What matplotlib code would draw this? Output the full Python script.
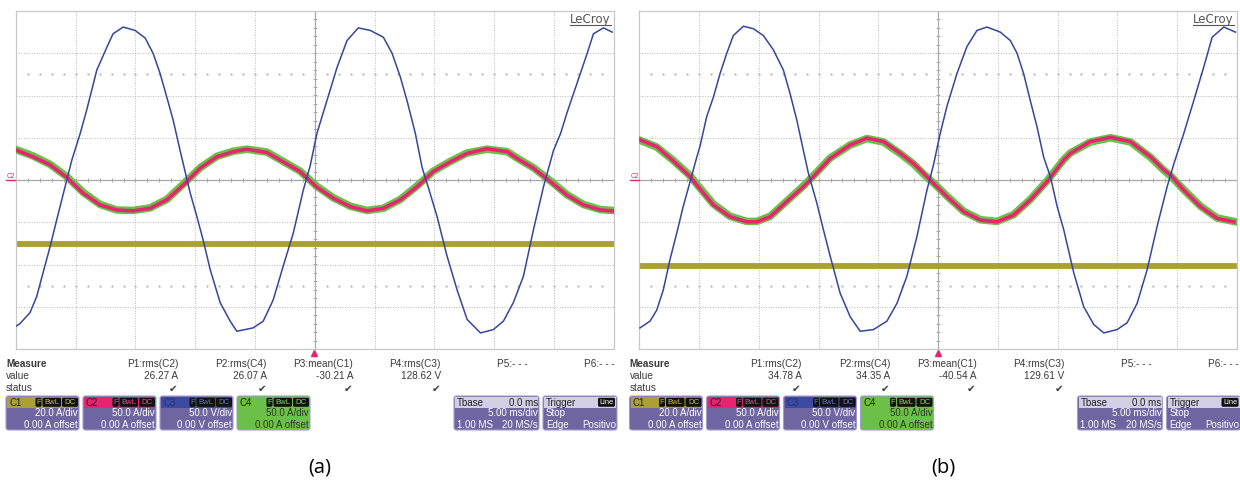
import numpy as np
import matplotlib
matplotlib.use("Agg")
import matplotlib.pyplot as plt
from matplotlib.patches import FancyBboxPatch, Rectangle

plt.rcParams['font.family'] = ['Liberation Sans', 'DejaVu Sans']

# ---- scope settings (per division) ----
T_DIV = 5.0      # ms/div
V_DIV = 50.0     # C3, V/div
I2_DIV = 50.0    # C2 / C4, A/div
I1_DIV = 20.0    # C1, A/div

# ---- panel (a) traces (time in ms, centre = 0) ----
blue_a_t = [-25.0, -24.67, -23.83, -23.27, -22.74, -22.15, -21.59, -20.75, -20.34, -19.63,
            -19.08, -18.24, -17.40, -16.88, -16.04, -15.03, -14.19, -13.53, -12.94, -12.38,
            -11.85, -11.27, -10.85, -10.43, -9.87, -9.34, -8.75, -7.92, -7.08, -6.52,
            -5.15, -4.31, -3.48, -2.64, -1.80, -0.96, -0.38, 0.18, 1.02, 1.86,
            2.70, 3.64, 4.65, 5.74, 6.47, 7.16, 7.72, 8.42, 8.98, 9.53,
            10.23, 11.07, 11.91, 12.75, 13.87, 14.95, 15.79, 16.62, 17.46, 18.30,
            19.14, 19.98, 20.57, 21.12, 21.96, 22.80, 23.32, 24.16, 24.89]
blue_a_v = [-173, -170, -157, -138, -110, -79, -47, 0, 23, 55,
            83, 130, 157, 173, 181, 177, 168, 150, 126, 98,
            71, 35, 10, -15, -43, -71, -106, -145, -167, -179,
            -175, -167, -142, -102, -63, -12, 17, 55, 94, 133,
            165, 180, 177, 169, 150, 122, 94, 55, 15, -10,
            -43, -90, -130, -165, -181, -177, -167, -145, -114, -59,
            -8, 35, 55, 80, 115, 150, 173, 180, 175]

red_a_t = [-25.0, -23.58, -22.15, -20.75, -19.39, -17.96, -16.57, -15.20, -13.78, -12.38,
           -11.01, -9.59, -8.19, -6.83, -5.68, -4.00, -2.64, -1.23, 0.18, 1.55,
           2.97, 4.37, 5.74, 7.16, 8.56, 9.92, 11.35, 12.75, 14.42, 16.10,
           16.93, 18.30, 19.72, 21.12, 22.49, 23.91, 24.89]
red_a_i = [35.5, 27.5, 18, 3, -15.5, -29.5, -35.5, -36.5, -33.5, -23.5,
           -6, 14, 27.5, 33.5, 36.5, 32.5, 21.5, 10, -8.5, -21.5,
           -31.5, -36.5, -33.5, -23.5, -8, 10, 21.5, 31.5, 37, 33.5,
           25.5, 14, -2, -18, -29.5, -35.5, -36.5]
green_a_i = [36, 28.5, 18.5, 4, -14.5, -29, -35.5, -36, -33, -23,
             -5, 14.5, 28, 34, 36.5, 33, 22, 10.5, -7.5, -21,
             -31, -36, -33.5, -23, -7, 10.5, 22, 32, 36.5, 33.5,
             26, 14.5, -1, -17.5, -29, -35, -36]

yellow_a_t = [-25.0, 25.0]
yellow_a_i = [-30.2, -30.2]

# ---- panel (b) traces ----
blue_b_t = [-24.94, -24.10, -23.54, -22.99, -22.43, -21.87, -21.32, -20.75, -20.19, -19.92,
            -19.36, -18.80, -18.24, -17.68, -17.13, -16.29, -15.45, -14.62, -13.78, -12.94,
            -12.38, -11.82, -11.27, -10.85, -10.15, -9.59, -9.03, -8.19, -7.35, -6.51,
            -5.40, -4.28, -3.44, -2.61, -1.77, -0.93, -0.38, 0.18, 0.74, 1.58,
            2.42, 3.26, 4.09, 5.21, 6.05, 6.61, 7.16, 7.72, 8.28, 8.84,
            9.40, 9.96, 10.52, 11.36, 12.19, 13.03, 13.87, 14.98, 15.82, 16.66,
            17.50, 18.33, 19.17, 19.73, 20.56, 21.40, 22.24, 22.94, 23.91, 24.89]
blue_b_v = [-175, -167, -154, -130, -94, -63, -31, -2, 27, 40,
            75, 98, 126, 150, 171, 182, 179, 171, 154, 130,
            102, 71, 35, 8, -27, -59, -90, -134, -162, -179,
            -177, -167, -146, -114, -67, -12, 18, 55, 87, 126,
            158, 177, 181, 175, 165, 150, 126, 94, 63, 27,
            4, -31, -59, -110, -150, -171, -181, -177, -169, -146,
            -106, -55, -8, 19, 55, 94, 134, 169, 181, 175]

red_b_t = [-24.94, -23.54, -22.15, -20.75, -20.19, -18.80, -17.40, -16.01, -15.17, -14.05,
           -12.66, -11.27, -10.43, -9.03, -7.35, -5.96, -4.57, -3.15, -2.05, -1.21,
           -0.38, 0.74, 2.14, 3.54, 4.93, 6.32, 7.72, 9.12, 10.51, 11.07,
           12.75, 14.42, 16.10, 17.77, 18.89, 19.45, 20.56, 21.96, 23.36, 24.75]
red_b_i = [47.5, 39.5, 22.5, 4, -6, -29.5, -43.5, -49.5, -49.5, -43.5,
           -25.5, -8, 4, 25.5, 41.5, 49.5, 45.5, 31.5, 19.5, 8,
           -4, -19.5, -37.5, -47.5, -49.5, -41.5, -23.5, -2, 23.5, 31.5,
           45.5, 50.5, 45.5, 27.5, 12, 6, -12, -31.5, -45.5, -49.5]
green_b_i = [47, 39, 23, 5, -5, -28.5, -43, -49, -49, -43,
             -25, -7, 5, 26, 41.5, 49, 45, 31, 19, 7,
             -3.5, -19, -37, -47, -49, -41, -23, -1, 24, 32,
             45, 50, 45, 27, 11.5, 5, -11.5, -31, -45, -49]

yellow_b_t = [-25.0, 25.0]
yellow_b_i = [-40.6, -40.6]

# ---- measurement / channel readouts ----
meas_names = ['P1:rms(C2)', 'P2:rms(C4)', 'P3:mean(C1)', 'P4:rms(C3)', 'P5:- - -', 'P6:- - -']
meas_vals_a = ['26.27 A', '26.07 A', '-30.21 A', '128.62 V', '', '']
meas_vals_b = ['34.78 A', '34.35 A', '-40.54 A', '129.61 V', '', '']
ch_names = ['C1', 'C2', 'C3', 'C4']
ch_scales = ['20.0 A/div', '50.0 A/div', '50.0 V/div', '50.0 A/div']
ch_offsets = ['0.00 A offset', '0.00 A offset', '0.00 V offset', '0.00 A offset']
tbase_vals = ['0.0 ms', '5.00 ms/div', '1.00 MS', '20 MS/s']
trig_vals = ['Line', 'Stop', 'Edge', 'Positivo']
panel_labels = ['(a)', '(b)']

# colours
c_yel = '#aaa034'
c_red = '#e6246f'
c_blue = '#36469e'
c_grn = '#6cc04a'
c_body = '#6e65a1'
c_text = '#3a3a3a'

W, H = 1240, 484
fig = plt.figure(figsize=(W / 100, H / 100), dpi=100)
fig.patch.set_facecolor('white')


def scope_axes(left_px):
    top, w, h = 11, 597.5, 338
    ax = fig.add_axes([left_px / W, 1 - (top + h) / H, w / W, h / H])
    ax.set_xlim(-25, 25)
    ax.set_ylim(-4, 4)
    ax.set_xticks([])
    ax.set_yticks([])
    for s in ax.spines.values():
        s.set_color('#c8c8c8')
        s.set_linewidth(0.9)
    grid_kw = dict(color='#b8b8b8', lw=0.7, ls=(0, (1, 1.6)), zorder=1)
    for k in range(-4, 5):
        if k != 0:
            ax.axvline(k * T_DIV, **grid_kw)
            ax.axhline(k, **grid_kw)
    ax.axvline(0, color='#a8a8a8', lw=0.9, zorder=1)
    ax.axhline(0, color='#a8a8a8', lw=0.9, zorder=1)
    ax.vlines(np.arange(-25, 25.01, 1.0), -0.055, 0.055, color='#a8a8a8', lw=0.7, zorder=1)
    ax.hlines(np.arange(-4, 4.01, 0.2), -0.18, 0.18, color='#a8a8a8', lw=0.7, zorder=1)
    dots = np.arange(-24, 24.5, 1.0)
    for yy in (2.5, -2.5):
        ax.plot(dots, np.full_like(dots, yy), ls='none', marker='s', ms=0.7,
                color='#c0c0c0', zorder=1)
    return ax


def draw_traces(ax, bt, bv, rt, ri, gi, yt, yi):
    ax.plot(yt, np.array(yi) / I1_DIV, color=c_yel, lw=4.2, solid_capstyle='butt', zorder=2)
    ax.plot(rt, np.array(gi) / I2_DIV, color=c_grn, lw=5.5, zorder=3)
    ax.plot(rt, np.array(ri) / I2_DIV, color=c_red, lw=2.6, zorder=4)
    ax.plot(bt, np.array(bv) / V_DIV, color=c_blue, lw=1.1, zorder=5)


ax_a = scope_axes(16)
draw_traces(ax_a, blue_a_t, blue_a_v, red_a_t, red_a_i, green_a_i, yellow_a_t, yellow_a_i)
ax_b = scope_axes(639.3)
draw_traces(ax_b, blue_b_t, blue_b_v, red_b_t, red_b_i, green_b_i, yellow_b_t, yellow_b_i)

# overlay in pixel coordinates for the readout area
ov = fig.add_axes([0, 0, 1, 1], zorder=10)
ov.set_xlim(0, W)
ov.set_ylim(H, 0)
ov.axis('off')
ov.patch.set_alpha(0)


def badge(x, y, w, h, txt, col, fs=5.6):
    ov.add_patch(FancyBboxPatch((x, y), w, h, boxstyle='round,pad=0,rounding_size=1.5',
                                fc='#111111', ec='none'))
    ov.text(x + w / 2, y + h / 2 + 0.3, txt, color=col, fontsize=fs, ha='center',
            va='center')


def readout(x0, vals, plot_right, label):
    # LeCroy logo
    ov.text(plot_right - 3, 19, 'LeCroy', ha='right', va='center', fontsize=8.5,
            color='#555555', family=['DejaVu Sans'])
    ov.plot([plot_right - 44, plot_right - 3], [25, 25], color='#555555', lw=0.8)
    # C2 offset marker and trigger arrow
    ov.text(x0 + 11, 176, 'C2', ha='center', va='center', fontsize=4.8, color=c_red)
    ov.plot([x0 + 6, x0 + 15], [180, 180], color=c_red, lw=1.0)
    ov.plot(x0 + 314, 353, marker='^', ms=5, color=c_red)

    ov.text(x0 + 6, 364, 'Measure', fontsize=7.2, fontweight='bold', color=c_text, va='center')
    ov.text(x0 + 6, 376, 'value', fontsize=7.2, color=c_text, va='center')
    ov.text(x0 + 6, 388, 'status', fontsize=7.2, color=c_text, va='center')
    rights = [178, 267, 353, 441, 528, 615]
    for i, (name, v) in enumerate(zip(meas_names, vals)):
        xr = x0 + rights[i]
        ov.text(xr, 364, name, ha='right', va='center', fontsize=7.2, color=c_text)
        if v:
            ov.text(xr, 376, v, ha='right', va='center', fontsize=7.2, color=c_text)
            ov.text(xr - 5, 388.5, '\u2714', ha='center', va='center', fontsize=7.5,
                    color='#404040', family=['DejaVu Sans'])

    heads = [c_yel, c_red, '#3d4aa2', c_grn]
    badge_cols = ['#c8bd48', '#f24a8e', '#6574c8', '#86d862']
    name_cols = ['#222222', '#3a1020', '#26306e', '#222222']
    for i in range(4):
        x = x0 + 6 + i * 77
        body = c_grn if i == 3 else c_body
        txt = '#2a3a20' if i == 3 else 'white'
        ov.add_patch(FancyBboxPatch((x, 396), 73, 34, boxstyle='round,pad=0,rounding_size=2.5',
                                    fc=body, ec='#a49ccc', lw=0.8))
        ov.add_patch(Rectangle((x + 1, 397), 71, 10.5, fc=heads[i], ec='none'))
        ov.text(x + 3, 402.5, ch_names[i], fontsize=7, color=name_cols[i], va='center')
        badge(x + 29.5, 397.8, 6, 9, 'F', badge_cols[i])
        badge(x + 36.5, 397.8, 18.5, 9, 'BwL', badge_cols[i])
        badge(x + 56, 397.8, 16, 9, 'DC', badge_cols[i])
        ov.text(x + 72, 413.5, ch_scales[i], ha='right', va='center', fontsize=7, color=txt)
        ov.text(x + 72, 424.5, ch_offsets[i], ha='right', va='center', fontsize=7, color=txt)

    # timebase and trigger boxes
    for bx, bw in ((x0 + 454, 85), (x0 + 543, 74)):
        ov.add_patch(FancyBboxPatch((bx, 396), bw, 34, boxstyle='round,pad=0,rounding_size=2.5',
                                    fc=c_body, ec='#a49ccc', lw=0.8))
        ov.add_patch(Rectangle((bx + 1, 397), bw - 2, 10.5, fc='#d2cee4', ec='none'))
    bx = x0 + 454
    ov.text(bx + 3, 402.5, 'Tbase', fontsize=7, color='#222222', va='center')
    ov.text(bx + 84, 402.5, tbase_vals[0], ha='right', fontsize=7, color='#222222', va='center')
    ov.text(bx + 84, 413.5, tbase_vals[1], ha='right', fontsize=7, color='white', va='center')
    ov.text(bx + 3, 424.5, tbase_vals[2], fontsize=7, color='white', va='center')
    ov.text(bx + 84, 424.5, tbase_vals[3], ha='right', fontsize=7, color='white', va='center')
    bx = x0 + 543
    ov.text(bx + 3, 402.5, 'Trigger', fontsize=7, color='#222222', va='center')
    badge(bx + 55, 397.8, 17, 9, trig_vals[0], 'white', fs=5.4)
    ov.text(bx + 3, 413.5, trig_vals[1], fontsize=7, color='white', va='center')
    ov.text(bx + 3, 424.5, trig_vals[2], fontsize=7, color='white', va='center')
    ov.text(bx + 73, 424.5, trig_vals[3], ha='right', fontsize=7, color='white', va='center')

    ov.text(x0 + 320, 467, label, ha='center', va='center', fontsize=14.5, color='black',
            family=['Open Sans', 'DejaVu Sans'])


readout(0, meas_vals_a, 613.5, panel_labels[0])
readout(623.5, meas_vals_b, 1236.8, panel_labels[1])

fig.savefig('out.png', dpi=100, facecolor='white')
